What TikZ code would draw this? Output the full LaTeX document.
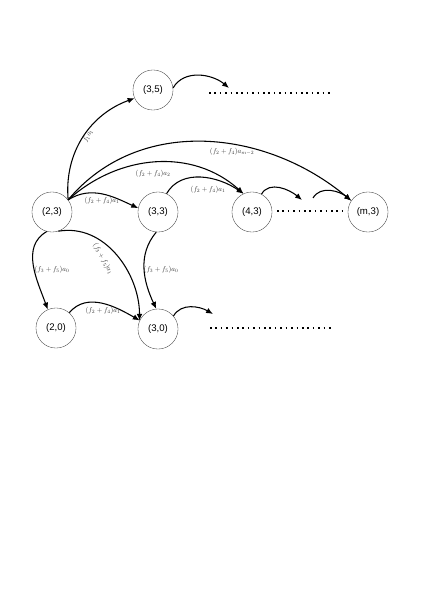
\documentclass[tikz,border=0pt]{standalone}
\usepackage{amsmath}
\usepackage{fontspec}
\newfontfamily\arialf{Liberation Sans}
\usepackage{tikz}
\usetikzlibrary{arrows.meta}

\begin{document}
\begin{tikzpicture}[x=0.0494cm, y=-0.0494cm,
		zustand/.style={draw=black!75, line width=0.5pt, circle, minimum size=1.98cm, inner sep=0pt, font=\arialf\fontsize{13.5}{15}\selectfont},
		pfeil/.style={-{Latex[length=3.4mm, width=2.8mm]}, line width=1.5pt},
		punkte/.style={line width=1.8pt, dash pattern=on 2.2pt off 5.4pt},
		gewicht/.style={font=\normalsize, black!80, inner sep=1pt}]
	\useasboundingbox (0,0) rectangle (425,602);
	
	% Zustaende
	\node[zustand] (z35) at (153,90) {(3,5)};
	\node[zustand] (z23) at (52,212) {(2,3)};
	\node[zustand] (z33) at (158,212) {(3,3)};
	\node[zustand] (z43) at (252,212) {(4,3)};
	\node[zustand] (zm3) at (368,212) {(m,3)};
	\node[zustand] (z20) at (56,328) {(2,0)};
	\node[zustand] (z30) at (158,329) {(3,0)};
	
	% freie Enden + Punktlinien
	\coordinate (e35) at (229,88);
	\coordinate (e43) at (302,200);
	\coordinate (s43) at (313,198);
	\coordinate (e30) at (213,314);
	\coordinate (p35a) at (209,93); \coordinate (p35b) at (331,93);
	\coordinate (p43a) at (277,211); \coordinate (p43b) at (344,211);
	\coordinate (p30a) at (210,328); \coordinate (p30b) at (331,328);
	\draw[punkte] (p35a) -- (p35b);
	\draw[punkte] (p43a) -- (p43b);
	\draw[punkte] (p30a) -- (p30b);
	
	% Kanten von (2,3) nach oben
	\draw[pfeil] (z23.37) to[out=95, in=200] (z35.204);
	\draw[pfeil] (z23.37) to[out=50, in=140] (zm3.146);
	\draw[pfeil] (z23.37) to[out=42, in=138] (z43.115);
	\draw[pfeil] (z23.37) to[out=32, in=155] (z33.169);
	\draw[pfeil] (z33.65) to[out=60, in=145] (z43.115);
	\node[gewicht, rotate=62] (l1) at (88,136) {$f_1a_1$};
	\node[gewicht] (l2) at (232,152) {$(f_2+f_4)a_{m-2}$};
	\node[gewicht] (l3) at (153,174) {$(f_2+f_4)a_2$};
	\node[gewicht] (l4) at (102,201) {$(f_2+f_4)a_1$};
	\node[gewicht] (l5) at (208,190) {$(f_2+f_4)a_1$};
	
	% kleine Pfeile
	\draw[pfeil] (z35.6) to[out=60, in=140] (e35);
	\draw[pfeil] (z43.62) to[out=60, in=140] (e43);
	\draw[pfeil] (s43) to[out=60, in=140] (zm3.146);
	\draw[pfeil] (z30.40) to[out=60, in=150] (e30);
	
	% Kanten nach unten
	\draw[pfeil] (z23.255) to[out=210, in=110] (z20.114);
	\draw[pfeil] (z23.288) to[out=10, in=90] (z30.156);
	\draw[pfeil] (z33.265) to[out=230, in=115] (z30.95);
	\draw[pfeil] (z20.49) to[out=50, in=150] (z30.155);
	\node[gewicht] (l6) at (52,270) {$(f_3+f_5)a_0$};
	\node[gewicht, rotate=-62] (l7) at (103,259) {$(f_3+f_5)a_1$};
	\node[gewicht] (l8) at (161,270) {$(f_3+f_5)a_0$};
	\node[gewicht] (l9) at (103,311) {$(f_2+f_4)a_1$};
\end{tikzpicture}
\end{document}
